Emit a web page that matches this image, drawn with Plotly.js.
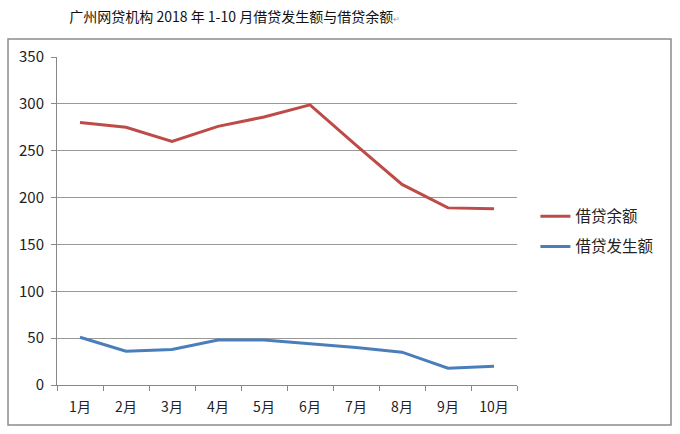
<!DOCTYPE html>
<html>
<head>
<meta charset="utf-8">
<script src="https://cdn.plot.ly/plotly-3.0.1.min.js"></script>
<style>
  html, body { margin: 0; padding: 0; background: #fff; }
  #chart { width: 680px; height: 434px; }
</style>
</head>
<body>
<div id="chart"></div>
<script>
// 广州网贷机构 2018 年 1-10 月借贷数据
const months = ["1月", "2月", "3月", "4月", "5月", "6月", "7月", "8月", "9月", "10月"];
const balance = [280, 275, 260, 276, 286, 299, 256, 214, 189, 188];   // 借贷余额
const issued = [51, 36, 38, 48, 48, 44, 40, 35, 18, 20];              // 借贷发生额
const yTicks = [0, 50, 100, 150, 200, 250, 300, 350];

const cjk = "'Noto Sans CJK SC', 'DejaVu Sans', sans-serif";

const traces = [
    {
        x: months,
        y: balance,
        type: "scatter",
        mode: "lines",
        name: "借贷余额",
        legendgroup: "a",
        line: { color: "#BE4B48", width: 3 }
    },
    {
        x: months,
        y: issued,
        type: "scatter",
        mode: "lines",
        name: "借贷发生额",
        legendgroup: "b",
        line: { color: "#4A7EBB", width: 3 }
    }
];

const layout = {
    width: 680,
    height: 434,
    margin: { l: 57, r: 163, t: 57, b: 49 },
    paper_bgcolor: "#fff",
    plot_bgcolor: "#fff",
    font: { family: cjk, color: "#222", size: 14 },
    title: {
        text: "广州网贷机构 2018 年 1-10 月借贷发生额与借贷余额<span style='font-size:8px;color:#999'>↵</span>",
        font: { family: cjk, size: 14, color: "#111" },
        xref: "container",
        yref: "container",
        x: 0.345,
        y: 0.96,
        xanchor: "center",
        yanchor: "middle"
    },
    xaxis: {
        type: "category",
        range: [-0.5, 9.5],
        tickson: "boundaries",
        ticks: "outside",
        ticklen: 5,
        tickcolor: "#888",
        ticklabelstandoff: 9,
        showgrid: false,
        showline: true,
        linecolor: "#888",
        linewidth: 1,
        tickfont: { size: 14, color: "#222" },
        fixedrange: true
    },
    yaxis: {
        range: [0, 350],
        tickvals: yTicks,
        ticks: "outside",
        ticklen: 5,
        tickcolor: "#888",
        ticklabelstandoff: 4,
        showgrid: true,
        gridcolor: "#999",
        gridwidth: 1,
        zeroline: false,
        showline: true,
        linecolor: "#888",
        linewidth: 1,
        tickfont: { size: 15, color: "#222" },
        fixedrange: true
    },
    showlegend: true,
    legend: {
        x: 1.04,
        y: 0.565,
        xanchor: "left",
        yanchor: "top",
        traceorder: "grouped",
        tracegroupgap: 7,
        itemwidth: 30,
        font: { family: cjk, size: 15.5, color: "#222" },
        bgcolor: "rgba(0,0,0,0)"
    },
    shapes: [
        {
            type: "rect",
            xref: "paper",
            yref: "paper",
            x0: -0.1065,
            x1: 1.3348,
            y0: -0.122,
            y1: 1.0549,
            line: { color: "#8c8c8c", width: 1.5 },
            fillcolor: "rgba(0,0,0,0)",
            layer: "below"
        }
    ]
};

Plotly.newPlot("chart", traces, layout, { displayModeBar: false, staticPlot: true });
</script>
</body>
</html>
